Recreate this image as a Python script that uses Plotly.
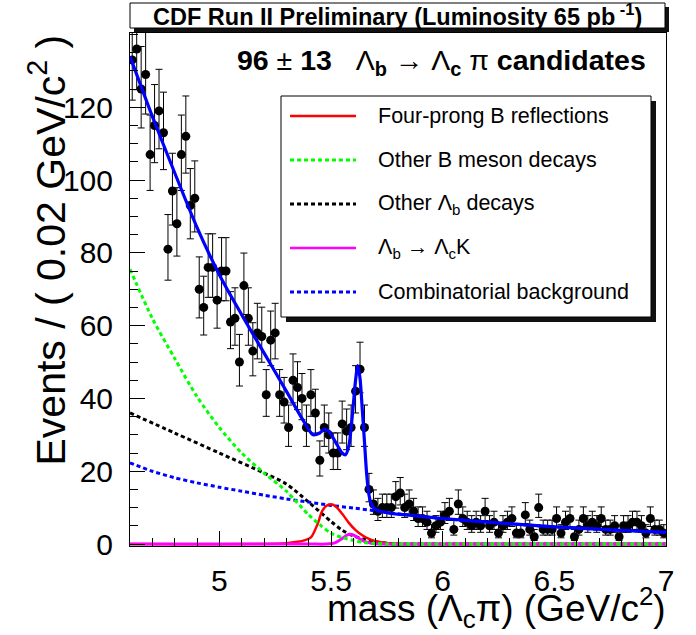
import numpy as np
import plotly.graph_objects as go

# ---------------- data ----------------
mass_min, mass_max, bin_width = 4.6, 7.0, 0.02
counts = [133, 136, 125, 129, 107, 115, 119, 113, 81, 97,
          88, 107, 112, 93, 95, 70, 65, 76, 76, 67,
          75, 75, 61, 62, 50, 71, 62, 53, 58, 57,
          41, 56, 58, 41, 39, 32, 45, 43, 40, 32,
          41, 36, 23, 32, 30, 25, 25, 33, 31, 32,
          42, 48, 32, 15, 11, 9, 10, 10, 10, 13,
          14, 10, 11, 9, 7, 7, 6, 3, 5, 6,
          8, 9, 4, 11, 7, 6, 5, 6, 5, 9,
          5, 6, 3, 5, 6, 7, 3, 3, 8, 4,
          2, 10, 4, 4, 4, 7, 3, 6, 7, 2,
          4, 7, 5, 6, 5, 7, 4, 4, 5, 2,
          5, 5, 6, 6, 5, 3, 7, 4, 4, 3]

# fit components: (mass, events)
total_m = [4.60, 4.70, 4.80, 4.90, 5.00, 5.10, 5.20, 5.30, 5.38, 5.42, 5.45, 5.47, 5.49,
           5.52, 5.55, 5.565, 5.58, 5.595, 5.61, 5.62, 5.63, 5.64, 5.65, 5.66, 5.67,
           5.68, 5.70, 5.75, 5.85, 6.00, 6.25, 6.50, 6.75, 7.00]
total_v = [134, 117.5, 102, 87, 74, 63, 52.5, 42, 33.5, 30, 30.5, 31.5, 31,
           28, 25, 24.5, 27, 35, 45, 49, 45.5, 37, 28, 19, 13.5,
           11, 9.5, 8.6, 7.9, 7.0, 5.8, 4.7, 3.9, 3.2]

comb_m = [4.60, 4.70, 4.80, 4.90, 5.00, 5.10, 5.20, 5.30, 5.40, 5.50, 5.60, 5.70,
          5.80, 6.00, 6.25, 6.50, 6.75, 7.00]
comb_v = [22.3, 20.0, 18.2, 16.8, 15.6, 14.5, 13.4, 12.4, 11.5, 10.6, 9.9, 9.1,
          8.3, 7.0, 5.8, 4.7, 3.9, 3.2]

otherB_m = [4.60, 4.70, 4.80, 4.90, 5.00, 5.10, 5.20, 5.30, 5.40, 5.45, 5.50, 5.55,
            5.60, 5.65, 5.70, 5.75, 6.00, 7.00]
otherB_v = [75.5, 62, 51, 40.5, 32, 25, 19.5, 14.5, 8.0, 5.3, 3.0, 1.8,
            1.0, 0.4, 0.15, 0, 0, 0]

otherLb_m = [4.60, 4.80, 5.00, 5.20, 5.30, 5.40, 5.50, 5.55, 5.60, 5.65, 5.70,
             5.75, 5.80, 6.00, 7.00]
otherLb_v = [36, 30.5, 25, 19.5, 16.5, 11.5, 6.2, 3.8, 2.2, 1.3, 0.6,
             0.2, 0, 0, 0]

fourprong_m = [4.60, 5.20, 5.30, 5.35, 5.38, 5.41, 5.44, 5.46, 5.48, 5.50, 5.52,
               5.55, 5.58, 5.61, 5.64, 5.67, 5.70, 5.75, 5.80, 5.85, 6.00, 7.00]
fourprong_v = [0, 0, 0.2, 0.6, 1.0, 1.8, 5.5, 9.0, 10.5, 10.9, 10.4,
               8.3, 5.8, 3.8, 2.4, 1.4, 0.8, 0.3, 0.1, 0, 0, 0]

lbk_m = [4.60, 5.40, 5.48, 5.52, 5.55, 5.57, 5.585, 5.60, 5.62, 5.65, 5.68, 5.72,
         6.00, 7.00]
lbk_v = [0, 0, 0, 0.4, 1.5, 2.4, 2.7, 2.5, 1.7, 0.7, 0.2, 0, 0, 0]

x_tick_vals = [5, 5.5, 6, 6.5, 7]
x_tick_text = ["5", "5.5", "6", "6.5", "7"]
y_tick_vals = [0, 20, 40, 60, 80, 100, 120]

legend_labels = ["Four-prong B reflections", "Other B meson decays",
                 "Other \u039b<sub>b</sub> decays",
                 "\u039b<sub>b</sub> \u2192 \u039b<sub>c</sub>K",
                 "Combinatorial background"]
legend_colors = ["#ff0000", "#00ff00", "#000000", "#ff00ff", "#0000ff"]
legend_dash = ["solid", "4px,3px", "4px,3px", "solid", "4px,3px"]

# ---------------- figure ----------------
FONT = "Liberation Sans, Arial, Helvetica, sans-serif"
W, H = 696, 635
L, R, T, B = 130, 30, 33, 89
PW, PH = W - L - R, H - T - B
NB = "\u00a0"


def px_x(px):
    return (px - L) / PW


def px_y(py):
    return (H - B - py) / PH


counts_arr = np.array(counts, dtype=float)
centers = mass_min + bin_width * (np.arange(len(counts)) + 0.5)
err_hi = 0.5 + np.sqrt(counts_arr + 0.25)
err_lo = -0.5 + np.sqrt(counts_arr + 0.25)

fig = go.Figure()
fig.add_trace(go.Scatter(
    x=centers, y=counts_arr, mode="markers",
    marker=dict(color="black", size=9),
    error_y=dict(type="data", symmetric=False, array=err_hi, arrayminus=err_lo,
                 color="black", thickness=1, width=3.5),
    showlegend=False))


def curve(m, v, color, dash, width):
    fig.add_trace(go.Scatter(x=m, y=v, mode="lines",
                             line=dict(color=color, dash=dash, width=width,
                                       shape="spline", smoothing=0.8),
                             showlegend=False, hoverinfo="skip"))


curve(otherLb_m, otherLb_v, "#000000", "4px,3px", 3)
curve(comb_m, comb_v, "#0000ff", "4px,3px", 3)
curve(fourprong_m, fourprong_v, "#ff0000", "solid", 2.5)
curve(lbk_m, lbk_v, "#ff00ff", "solid", 3)
curve(otherB_m, otherB_v, "#00ff00", "4px,3px", 3)
curve(total_m, total_v, "#0000ff", "solid", 3.2)

shapes = []
annotations = []

# title box with shadow
shapes.append(dict(type="rect", xref="paper", yref="paper",
                   x0=px_x(134), x1=px_x(669), y0=px_y(32), y1=px_y(7),
                   fillcolor="#111111", line=dict(width=0)))
shapes.append(dict(type="rect", xref="paper", yref="paper",
                   x0=px_x(130), x1=px_x(665), y0=px_y(28), y1=px_y(3),
                   fillcolor="white", line=dict(color="black", width=1)))
annotations.append(dict(xref="paper", yref="paper", x=px_x(397), y=px_y(15.5),
                        text="<b>CDF Run II Preliminary (Luminosity 65 pb<sup>" + NB + "-1</sup>)</b>",
                        showarrow=False, xanchor="center", yanchor="middle",
                        font=dict(family=FONT, size=23.5, color="black")))

# legend box with shadow
shapes.append(dict(type="rect", xref="paper", yref="paper",
                   x0=px_x(286), x1=px_x(656), y0=px_y(322), y1=px_y(101),
                   fillcolor="#111111", line=dict(width=0)))
shapes.append(dict(type="rect", xref="paper", yref="paper",
                   x0=px_x(281), x1=px_x(651), y0=px_y(317), y1=px_y(96),
                   fillcolor="white", line=dict(color="black", width=1)))
row_y = [116, 160, 204, 248, 292]
for lab, col, dsh, yy in zip(legend_labels, legend_colors, legend_dash, row_y):
    shapes.append(dict(type="line", xref="paper", yref="paper",
                       x0=px_x(290), x1=px_x(356), y0=px_y(yy), y1=px_y(yy),
                       line=dict(color=col, width=3 if dsh != "solid" else 2.5, dash=dsh)))
    annotations.append(dict(xref="paper", yref="paper", x=px_x(376), y=px_y(yy),
                            text=lab, showarrow=False, xanchor="left", yanchor="middle",
                            font=dict(family=FONT, size=21.5, color="black")))

# signal yield
annotations.append(dict(xref="paper", yref="paper", x=px_x(648), y=px_y(62),
                        text="<b>96</b> \u00b1 <b>13</b>" + NB * 3 + "\u039b<sub><b>b</b></sub> \u2192 "
                             "\u039b<sub><b>c</b></sub> \u03c0 <b>candidates</b>",
                        showarrow=False, xanchor="right", yanchor="middle",
                        font=dict(family=FONT, size=28.5, color="black")))

# axis titles
annotations.append(dict(xref="paper", yref="paper", x=px_x(47), y=px_y(33),
                        text="Events / ( 0.02 GeV/c<sup>2</sup> )", textangle=-90,
                        showarrow=False, xanchor="center", yanchor="top",
                        font=dict(family=FONT, size=41, color="black")))
annotations.append(dict(xref="paper", yref="paper", x=px_x(668), y=px_y(607),
                        text="mass (\u039b<sub>c</sub>\u03c0) (GeV/c<sup>2</sup>)",
                        showarrow=False, xanchor="right", yanchor="middle",
                        font=dict(family=FONT, size=37, color="black")))

axis_common = dict(showgrid=False, zeroline=False, showline=True, linecolor="black",
                   linewidth=1, mirror=True, ticks="inside", tickcolor="black",
                   tickwidth=1, ticklen=15, tickmode="array",
                   tickfont=dict(family=FONT, size=30, color="black"))

fig.update_layout(
    width=W, height=H, margin=dict(l=L, r=R, t=T, b=B, pad=0),
    paper_bgcolor="white", plot_bgcolor="white",
    showlegend=False, shapes=shapes, annotations=annotations,
    xaxis=dict(range=[mass_min, mass_max], tickvals=x_tick_vals, ticktext=x_tick_text,
               minor=dict(tickmode="linear", dtick=0.1, tick0=5, ticks="inside", ticklen=8,
                          tickcolor="black", showgrid=False),
               ticklabelstandoff=8, **axis_common),
    yaxis=dict(range=[-0.55, 140.4], tickvals=y_tick_vals,
               ticktext=[str(v) for v in y_tick_vals],
               minor=dict(tickmode="linear", dtick=5, tick0=0, ticks="inside", ticklen=8,
                          tickcolor="black", showgrid=False),
               ticklabelstandoff=10, **axis_common),
)

fig.write_html("out.html")
